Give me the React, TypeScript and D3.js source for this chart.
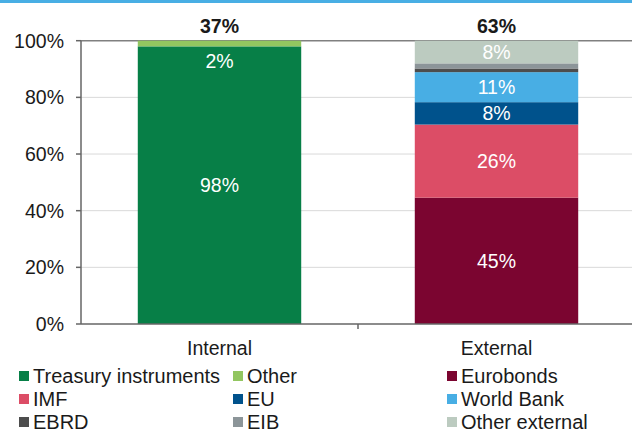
import React from "react";
import * as d3 from "d3";

const categories = ["Internal", "External"];
const totals = ["37%", "63%"];
const seriesNames = ["Treasury instruments", "Other", "Eurobonds", "IMF", "EU", "World Bank", "EBRD", "EIB", "Other external"];
const seriesColors = ["#077f47", "#92c660", "#7b0530", "#dc4d66", "#00528c", "#48aee4", "#4d4d4d", "#8c9599", "#bccbc0"];
const internalValues = [98, 2, 0, 0, 0, 0, 0, 0, 0];
const externalValues = [0, 0, 44.6, 25.8, 7.9, 10.6, 1.3, 1.8, 8.0];
const segmentLabels = [
  ["98%", "2%", "", "", "", "", "", "", ""],
  ["", "", "45%", "26%", "8%", "11%", "", "", "8%"],
];
const yTicks = [0, 20, 40, 60, 80, 100];

export default function App() {
  const W = 632, H = 432;
  const x0 = 81, y0 = 324, y1 = 40.7;
  const x = d3.scaleBand().domain(categories).range([x0, x0 + 2 * 277]).paddingInner(0.41).paddingOuter(0.205);
  const y = d3.scaleLinear().domain([0, 100]).range([y0, y1]);
  const values = [internalValues, externalValues];
  const font = "'Liberation Sans', Arial, sans-serif";
  const fs = 19.5;

  const legendCols = [19, 233, 447];
  const legendRows = [376, 399, 422];

  return (
    <svg width={W} height={H} style={{ position: "absolute", left: 0, top: 0 }} fontFamily={font}>
      <rect x={0} y={0} width={W} height={3} fill="#48aee4" />
      {yTicks.filter(t => t > 0 && t < 100).map(t => (
        <line key={t} x1={x0} x2={W} y1={y(t)} y2={y(t)} stroke="#d9d9d9" strokeWidth={1} />
      ))}
      <line x1={x0} x2={W} y1={y(100)} y2={y(100)} stroke="#808080" strokeWidth={1.5} />
      {categories.map((c, ci) => {
        const stack = d3.stack<number[]>().keys(seriesNames.map((_, i) => String(i))).value((d, k) => d[+k])([values[ci]] as any);
        return (
          <g key={c}>
            {stack.map((s, si) => {
              const [a, b] = s[0];
              if (b - a <= 0) return null;
              return (
                <rect key={si} x={x(c)} width={x.bandwidth()} y={y(b)} height={y(a) - y(b)} fill={seriesColors[si]} />
              );
            })}
            {stack.map((s, si) => {
              const [a, b] = s[0];
              const lab = segmentLabels[ci][si];
              if (!lab) return null;
              const cyv = b - a < 4 ? y(a) + 15 : y((a + b) / 2);
              return (
                <text key={"l" + si} x={x(c)! + x.bandwidth() / 2} y={cyv} dy="0.35em" textAnchor="middle" fill="#ffffff" fontSize={fs}>
                  {lab}
                </text>
              );
            })}
            <text x={x(c)! + x.bandwidth() / 2} y={26.5} dy="0.35em" textAnchor="middle" fontWeight="bold" fontSize={fs} fill="#1a1a1a">{totals[ci]}</text>
            <text x={x(c)! + x.bandwidth() / 2} y={348} dy="0.35em" textAnchor="middle" fontSize={fs} fill="#1a1a1a">{c}</text>
          </g>
        );
      })}
      <line x1={x0} x2={x0} y1={y(100)} y2={y0} stroke="#666" strokeWidth={1.5} />
      <line x1={x0} x2={W} y1={y0} y2={y0} stroke="#666" strokeWidth={1.5} />
      {yTicks.map(t => (
        <g key={t}>
          <line x1={x0 - 5} x2={x0} y1={y(t)} y2={y(t)} stroke="#666" strokeWidth={1.5} />
          <text x={64} y={y(t)} dy="0.35em" textAnchor="end" fontSize={fs} fill="#1a1a1a">{t}%</text>
        </g>
      ))}
      <line x1={x0 + 277} x2={x0 + 277} y1={y0} y2={y0 + 5} stroke="#666" strokeWidth={1.5} />
      {seriesNames.map((n, i) => {
        const cx = legendCols[i % 3];
        const cy = legendRows[Math.floor(i / 3)];
        return (
          <g key={n}>
            <rect x={cx} y={cy - 5} width={10} height={10} fill={seriesColors[i]} />
            <text x={cx + 14} y={cy} dy="0.35em" fontSize={20} fill="#1a1a1a">{n}</text>
          </g>
        );
      })}
    </svg>
  );
}
